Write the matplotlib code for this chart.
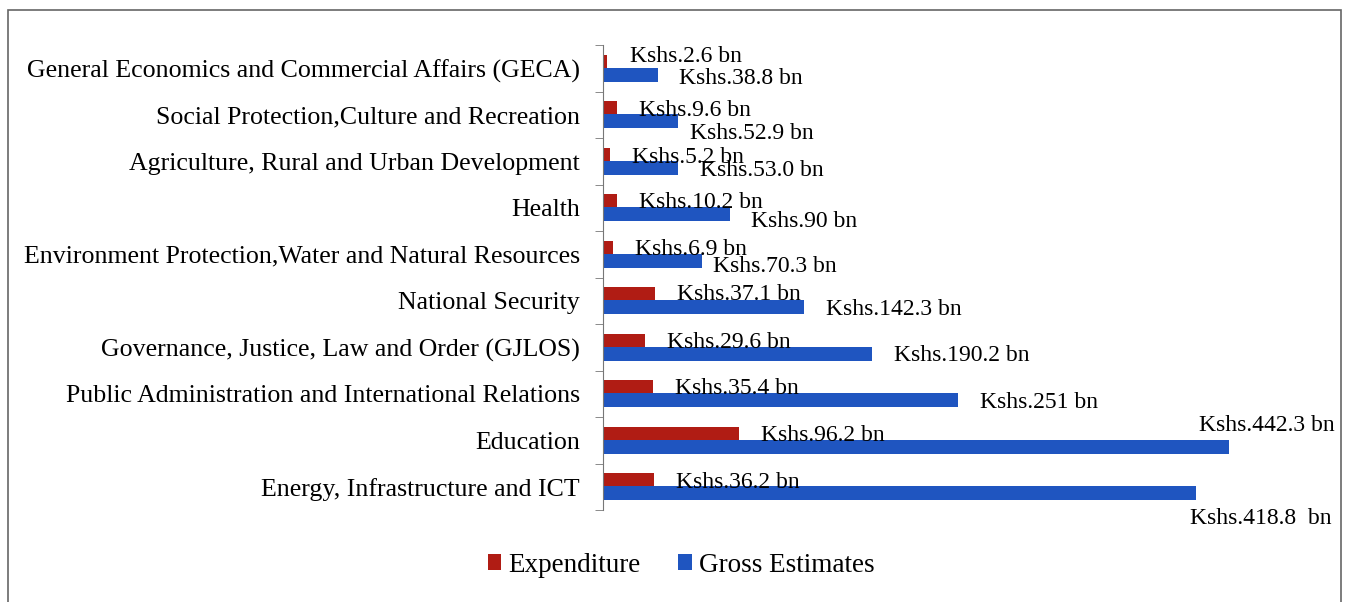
import numpy as np
import matplotlib.pyplot as plt
from matplotlib.patches import Rectangle

# Sector names (bottom to top, as drawn)
sectores = ['Energy, Infrastructure and ICT',
            'Education',
            'Public Administration and International Relations',
            'Governance, Justice, Law and Order (GJLOS)',
            'National Security',
            'Environment Protection,Water and Natural Resources',
            'Health',
            'Agriculture, Rural and Urban Development',
            'Social Protection,Culture and Recreation',
            'General Economics and Commercial Affairs (GECA)']
gasto = [36.2, 96.2, 35.4, 29.6, 37.1, 6.9, 10.2, 5.2, 9.6, 2.6]
bruto = [418.8, 442.3, 251, 190.2, 142.3, 70.3, 90, 53.0, 52.9, 38.8]
etiq_gasto = ['Kshs.36.2 bn', 'Kshs.96.2 bn', 'Kshs.35.4 bn', 'Kshs.29.6 bn',
              'Kshs.37.1 bn', 'Kshs.6.9 bn', 'Kshs.10.2 bn', 'Kshs.5.2 bn',
              'Kshs.9.6 bn', 'Kshs.2.6 bn']
etiq_bruto = ['Kshs.418.8  bn', 'Kshs.442.3 bn', 'Kshs.251 bn', 'Kshs.190.2 bn',
              'Kshs.142.3 bn', 'Kshs.70.3 bn', 'Kshs.90 bn', 'Kshs.53.0 bn',
              'Kshs.52.9 bn', 'Kshs.38.8 bn']

# desplazamiento de etiquetas en pixeles (x, y) desde el extremo de la barra
off_gasto = [(22, -2), (22, -2), (22, -1), (22, -2), (22, 0),
             (22, -2), (22, -1), (22, -3), (22, -2), (23, 5)]
off_bruto = [(-6, -25), (-30, 21), (22, -2), (22, -2), (22, -2),
             (11, -6), (21, -7), (22, -3), (12, -12), (21, -4)]

rojo = '#b01c14'
azul = '#1f55c0'

plt.rcParams['font.family'] = ['Liberation Serif', 'DejaVu Serif']

fig = plt.figure(figsize=(13.49, 6.02), dpi=100)
ax = fig.add_axes([603 / 1349, 92 / 602, 700 / 1349, 465 / 602])

y = np.arange(len(sectores))
h = 0.3
b1 = ax.barh(y + 0.14, gasto, height=h, color=rojo, label='Expenditure')
b2 = ax.barh(y - 0.14, bruto, height=h, color=azul, label='Gross Estimates')

for i in range(len(sectores)):
    ax.annotate(etiq_gasto[i], (gasto[i], y[i] + 0.14), xytext=off_gasto[i],
                textcoords='offset pixels', va='center', ha='left', fontsize=17)
    ax.annotate(etiq_bruto[i], (bruto[i], y[i] - 0.14), xytext=off_bruto[i],
                textcoords='offset pixels', va='center', ha='left', fontsize=17)

ax.set_xlim(0, 700 / 1.415)
ax.set_ylim(-0.5, len(sectores) - 0.5)
ax.set_yticks(y)
ax.set_yticklabels(sectores, fontsize=18.6)
ax.set_yticks(np.arange(-0.5, len(sectores)), minor=True)
ax.tick_params(axis='y', which='major', length=0, pad=16.5)
ax.tick_params(axis='y', which='minor', length=6, color='#777777')
ax.set_xticks([])
for s in ['top', 'right', 'bottom']:
    ax.spines[s].set_visible(False)
ax.spines['left'].set_color('#777777')

fig.legend(handles=[b1, b2], loc='center', bbox_to_anchor=(681 / 1349, 1 - 565 / 602),
           ncol=2, frameon=False, fontsize=19.5, handlelength=0.5, handleheight=0.5,
           handletextpad=0.25, columnspacing=1.4)

# marco exterior
fig.add_artist(Rectangle((8 / 1349, -0.05), 1333 / 1349, 1.05 - 10 / 602,
                         transform=fig.transFigure, fill=False,
                         edgecolor='#666666', linewidth=1.2))

fig.savefig('out.png', dpi=100)
